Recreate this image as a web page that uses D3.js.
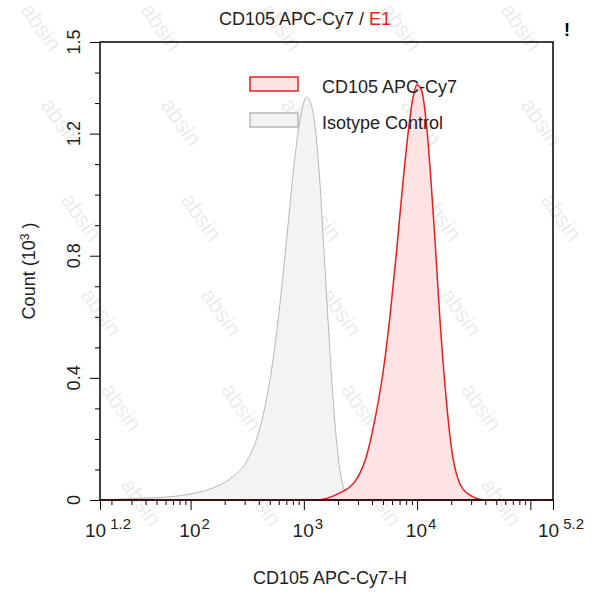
<!DOCTYPE html>
<html><head><meta charset="utf-8">
<script src="https://cdn.jsdelivr.net/npm/d3@7"></script>
<style>body{margin:0;background:#fff}text{font-family:Arial,"Liberation Sans",sans-serif}</style>
</head><body><div id="graph"></div>
<script>
// log10 positions and counts (x10^3)
var isoLog = [1.2,1.5,1.8,2.0,2.2,2.35,2.5,2.6,2.68,2.75,2.8,2.85,2.9,2.94,2.98,3.02,3.06,3.1,3.14,3.18,3.22,3.26,3.3,3.35,3.4,5.2]
var isoCnt = [0,0.005,0.01,0.02,0.04,0.07,0.13,0.22,0.35,0.52,0.68,0.86,1.05,1.18,1.27,1.32,1.3,1.22,1.05,0.8,0.55,0.32,0.15,0.04,0,0]
var cdLog = [1.2,3.1,3.3,3.45,3.55,3.62,3.7,3.76,3.82,3.87,3.92,3.96,4.0,4.04,4.08,4.12,4.16,4.2,4.25,4.3,4.36,4.45,4.6,5.2]
var cdCnt = [0,0,0.02,0.06,0.14,0.25,0.42,0.6,0.82,1.02,1.2,1.31,1.36,1.34,1.24,1.06,0.84,0.6,0.36,0.18,0.07,0.02,0,0]
var yTicks = [0,0.4,0.8,1.2,1.5]
var xTicks = [1.2,2,3,4,5.2]

var svg = d3.select("#graph").append("svg").attr("width",593).attr("height",600)

// watermark
for (var r=0;r<6;r++) for (var c=0;c<5;c++) {
  var wx = 20+c*120+r*20
  if (wx > 540) continue
  svg.append("text").attr("transform","translate("+wx+","+(10+r*95)+") rotate(55)")
    .attr("font-size",22).attr("fill","#ececec").text("absin")
}

var x = d3.scaleLinear().domain([1.2,5.2]).range([100,553])
var y = d3.scaleLinear().domain([0,1.5]).range([500,42])

var area = function(xs, ys){ return d3.area().curve(d3.curveMonotoneX).x(function(d,i){return x(xs[i])}).y0(y(0)).y1(function(d,i){return y(ys[i])})(xs) }
svg.append("path").attr("d",area(isoLog,isoCnt)).attr("fill","#f3f3f3").attr("stroke","#b8b8b8")
svg.append("path").attr("d",area(cdLog,cdCnt)).attr("fill","#fde3e3").attr("stroke","#ee1c1c").attr("stroke-width",1.5)

svg.append("rect").attr("x",100).attr("y",42).attr("width",453).attr("height",458).attr("fill","none").attr("stroke","#000").attr("stroke-width",1.5)

// y axis
var yAx = svg.append("g").attr("transform","translate(100,0)")
  .call(d3.axisLeft(y).tickValues(d3.range(0,1.51,0.1)).tickSize(5).tickFormat(""))
yAx.selectAll("line").attr("x2",function(d){return yTicks.some(function(t){return Math.abs(t-d)<1e-6})?-10:-5})
yAx.select(".domain").remove()
yTicks.forEach(function(t){
  svg.append("text").attr("transform","translate(80,"+y(t)+") rotate(-90)").attr("text-anchor","middle")
    .attr("font-size",18).attr("fill","#222").text(t==0?"0":t.toFixed(1))
})

// x axis with minor log ticks
var minor = []
for (var e=1;e<=5;e++) for (var m=1;m<10;m++){ var v=e+Math.log10(m); if(v>=1.2&&v<=5.2) minor.push(v) }
var xAx = svg.append("g").attr("transform","translate(0,500)").call(d3.axisBottom(x).tickValues(minor).tickFormat("").tickSize(5))
xAx.selectAll("line").attr("y2",function(d){return (Math.abs(d-Math.round(d))<1e-6)?10:5})
xAx.select(".domain").remove()
svg.append("g").attr("transform","translate(0,500)").call(d3.axisBottom(x).tickValues([1.2,5.2]).tickFormat("").tickSize(10)).select(".domain").remove()

xTicks.forEach(function(t){
  var tx = svg.append("text").attr("x",x(t)+(t%1?8:4)).attr("y",537).attr("text-anchor","middle").attr("font-size",19).attr("fill","#222")
  tx.append("tspan").text("10")
  tx.append("tspan").attr("dy",-8).attr("font-size",15).attr("dx",t%1?4:1).text(t%1?t.toFixed(1):t)
})

svg.append("text").attr("x",330).attr("y",584).attr("text-anchor","middle").attr("font-size",18).attr("fill","#222").text("CD105 APC-Cy7-H")
var yl = svg.append("text").attr("transform","translate(35,271) rotate(-90)").attr("text-anchor","middle").attr("font-size",18).attr("fill","#222")
yl.append("tspan").text("Count  (10")
yl.append("tspan").attr("dy",-6).attr("font-size",12).text("3")
yl.append("tspan").attr("dy",6).text(" )")

var tt = svg.append("text").attr("x",305).attr("y",25).attr("text-anchor","middle").attr("font-size",18).attr("fill","#222")
tt.append("tspan").text("CD105 APC-Cy7 / ")
tt.append("tspan").attr("fill","#ee1c1c").text("E1")
svg.append("text").attr("x",567).attr("y",36).attr("font-size",18).attr("font-weight","bold").attr("text-anchor","middle").text("!")

// legend
var leg = [{n:"CD105 APC-Cy7",f:"#fde3e3",s:"#ee1c1c"},{n:"Isotype Control",f:"#f3f3f3",s:"#b8b8b8"}]
leg.forEach(function(d,i){
  svg.append("rect").attr("x",250).attr("y",77+i*36).attr("width",48).attr("height",14).attr("fill",d.f).attr("stroke",d.s).attr("stroke-width",1.5)
  svg.append("text").attr("x",322).attr("y",93+i*36).attr("font-size",18).attr("fill","#222").text(d.n)
})
</script></body></html>
